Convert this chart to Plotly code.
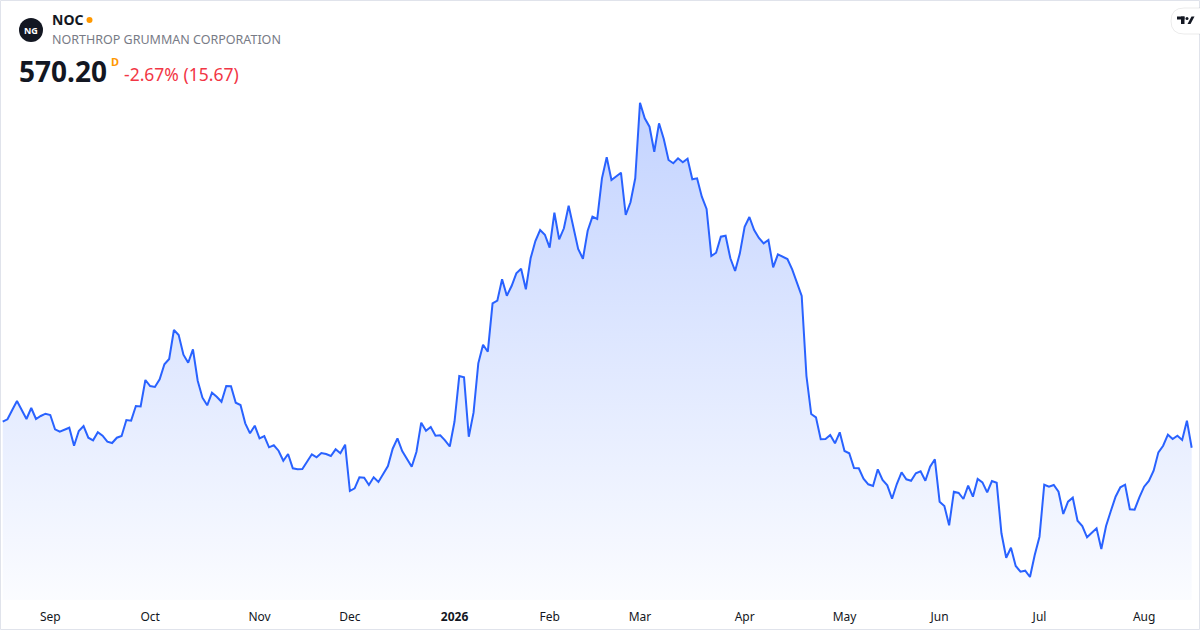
import pandas as pd
import plotly.graph_objects as go

# daily closes, NOC
close = [
    585.28, 586.67, 592.07, 597.29, 592.07, 586.85, 593.23, 586.85, 588.59, 589.92,
    589.17, 580.87, 579.48, 580.47, 581.80, 571.36, 579.89, 582.79, 576.00, 574.49,
    579.13, 577.16, 573.68, 572.93, 576.00, 576.99, 586.27, 585.90, 594.39, 594.10,
    609.47, 605.99, 605.41, 609.87, 618.57, 621.65, 638.47, 635.57, 624.14, 619.50,
    627.27, 609.06, 599.20, 594.79, 602.10, 599.78, 596.88, 605.99, 605.81, 596.30,
    594.97, 584.35, 578.55, 582.96, 575.65, 576.99, 570.43, 571.59, 568.46, 562.66,
    566.55, 558.25, 557.67, 557.80, 562.08, 566.37, 564.63, 567.13, 566.55, 565.39,
    569.27, 566.95, 571.94, 545.09, 546.65, 553.03, 552.80, 548.57, 553.03, 550.31,
    554.95, 559.59, 569.62, 575.65, 568.29, 563.82, 559.18, 567.88, 584.70, 580.06,
    582.21, 577.16, 577.39, 574.49, 570.90, 585.40, 611.79, 611.03, 576.58, 590.50,
    619.15, 629.94, 625.88, 653.95, 655.46, 667.87, 658.36, 663.99, 671.35, 674.02,
    662.07, 680.05, 690.09, 696.47, 693.74, 686.20, 706.50, 691.07, 697.45, 710.56,
    698.38, 685.45, 679.82, 696.06, 704.18, 702.85, 726.45, 738.63, 725.47, 727.38,
    729.70, 705.17, 712.53, 726.45, 770.30, 761.25, 756.38, 741.88, 758.35, 749.25,
    737.07, 735.15, 738.05, 735.73, 737.82, 725.87, 726.45, 715.78, 708.65, 681.39,
    683.30, 692.58, 693.16, 680.05, 672.69, 682.95, 698.38, 704.01, 696.47, 691.83,
    688.75, 690.67, 674.83, 682.37, 680.98, 679.65, 673.67, 666.48, 658.19, 611.79,
    589.75, 587.83, 575.07, 575.25, 577.57, 572.75, 579.13, 568.29, 566.95, 558.43,
    558.25, 552.22, 548.97, 547.99, 557.67, 551.47, 548.39, 540.62, 549.15, 555.93,
    551.87, 551.06, 555.35, 556.51, 551.06, 559.18, 563.47, 538.88, 536.39, 525.19,
    544.68, 543.93, 540.45, 548.16, 541.78, 552.05, 550.13, 544.33, 550.89, 549.90,
    520.55, 506.40, 512.20, 501.59, 498.28, 498.86, 495.21, 507.97, 518.58, 548.74,
    547.58, 548.57, 544.68, 531.75, 538.88, 541.20, 527.86, 524.79, 518.23, 520.90,
    523.45, 511.45, 524.79, 533.49, 541.78, 547.23, 548.74, 534.47, 534.24, 541.43,
    547.58, 550.89, 556.86, 567.53, 571.36, 577.74, 575.25, 577.16, 574.67, 585.87,
    570.20,
]

market_holidays = ["2025-09-01", "2025-11-27", "2025-12-25", "2026-01-01", "2026-01-19",
                   "2026-02-16", "2026-04-03", "2026-05-25", "2026-06-19", "2026-07-03"]
month_labels = ["Sep", "Oct", "Nov", "Dec", "<b>2026</b>", "Feb", "Mar", "Apr",
                "May", "Jun", "Jul", "Aug"]

days = pd.bdate_range("2025-08-18", "2026-08-31", freq="C", holidays=market_holidays)[:len(close)]
dates = [d.strftime("%Y-%m-%d") for d in days]

# first session of every month (skip the partial first month)
month_start = []
for i, d in enumerate(days):
    if i > 0 and d.month != days[i - 1].month:
        month_start.append(dates[i])
month_start = month_start[:len(month_labels)]

W, H = 1200, 630
PLOT_H = 600
y_lo, y_hi = 481.87, 829.87


def px(x):
    return x / W


def py(y):
    return (PLOT_H - y) / PLOT_H


fig = go.Figure()
fig.add_trace(go.Scatter(
    x=dates, y=close, mode="lines",
    line=dict(color="#2962FF", width=2),
    fill="tozeroy",
    fillgradient=dict(type="vertical", start=y_lo, stop=max(close),
                      colorscale=[[0, "rgba(41,98,255,0.02)"], [1, "rgba(41,98,255,0.28)"]]),
    hoverinfo="skip",
))

shapes = [
    # widget border
    dict(type="rect", xref="paper", yref="paper", x0=px(0.5), x1=px(1199.5), y0=py(629.5), y1=py(0.5),
         line=dict(color="#E0E3EB", width=1)),
    # logo circle
    dict(type="circle", xref="paper", yref="paper", x0=px(19), x1=px(43), y0=py(42), y1=py(18),
         fillcolor="#131722", line_width=0),
    # status dot
    dict(type="circle", xref="paper", yref="paper", x0=px(86.5), x1=px(92.5), y0=py(23), y1=py(17),
         fillcolor="#FF9800", line_width=0),
    # tradingview badge
    dict(type="path", xref="paper", yref="paper",
         path=(f"M {px(1205)},{py(8)} L {px(1184)},{py(8)} Q {px(1171)},{py(8)} {px(1171)},{py(21)} "
               f"Q {px(1171)},{py(34)} {px(1184)},{py(34)} L {px(1205)},{py(34)} Z"),
         fillcolor="white", line=dict(color="rgba(0,0,0,0.08)", width=1)),
    dict(type="rect", xref="paper", yref="paper", x0=px(1177), x1=px(1184.5), y0=py(19.5), y1=py(16.5),
         fillcolor="#131722", line_width=0),
    dict(type="rect", xref="paper", yref="paper", x0=px(1181), x1=px(1184.5), y0=py(24), y1=py(16.5),
         fillcolor="#131722", line_width=0),
    dict(type="circle", xref="paper", yref="paper", x0=px(1185.5), x1=px(1188.5), y0=py(20), y1=py(17),
         fillcolor="#131722", line_width=0),
    dict(type="path", xref="paper", yref="paper",
         path=f"M {px(1187.5)},{py(24)} L {px(1190.5)},{py(24)} L {px(1194.5)},{py(16.5)} L {px(1191.5)},{py(16.5)} Z",
         fillcolor="#131722", line_width=0),
]

font = "Noto Sans, Open Sans, sans-serif"
annotations = [
    dict(x=px(31), y=py(30.5), text="<b>NG</b>", font=dict(family=font, size=9, color="white"),
         xanchor="center", yanchor="middle"),
    dict(x=px(50), y=py(20), text="<b>NOC</b>", font=dict(family=font, size=14, color="#131722"),
         xanchor="left", yanchor="middle"),
    dict(x=px(50), y=py(40), text="NORTHROP GRUMMAN CORPORATION",
         font=dict(family=font, size=12.5, color="#787B86"), xanchor="left", yanchor="middle"),
    dict(x=px(17), y=py(71), text="<b>570.20</b>", font=dict(family=font, size=28, color="#131722"),
         xanchor="left", yanchor="middle"),
    dict(x=px(109), y=py(61), text="<b>D</b>", font=dict(family=font, size=11, color="#FF9800"),
         xanchor="left", yanchor="middle"),
    dict(x=px(122), y=py(74), text="-2.67% (15.67)", font=dict(family=font, size=17.5, color="#F23645"),
         xanchor="left", yanchor="middle"),
]
for a in annotations:
    a.update(xref="paper", yref="paper", showarrow=False)

fig.update_layout(
    width=W, height=H,
    margin=dict(l=0, r=0, t=0, b=H - PLOT_H),
    paper_bgcolor="white", plot_bgcolor="white",
    showlegend=False,
    shapes=shapes,
    annotations=annotations,
    xaxis=dict(type="category", range=[-0.57, len(close) + 0.75],
               tickvals=month_start, ticktext=month_labels,
               showgrid=False, zeroline=False, showline=False,
               ticks="outside", ticklen=6, tickcolor="rgba(0,0,0,0)",
               tickfont=dict(family=font, size=12, color="#131722")),
    yaxis=dict(range=[y_lo, y_hi], visible=False, showgrid=False, zeroline=False),
)

fig.write_html("out.html", config={"displayModeBar": False},
               post_script="document.body.style.margin='0';")
